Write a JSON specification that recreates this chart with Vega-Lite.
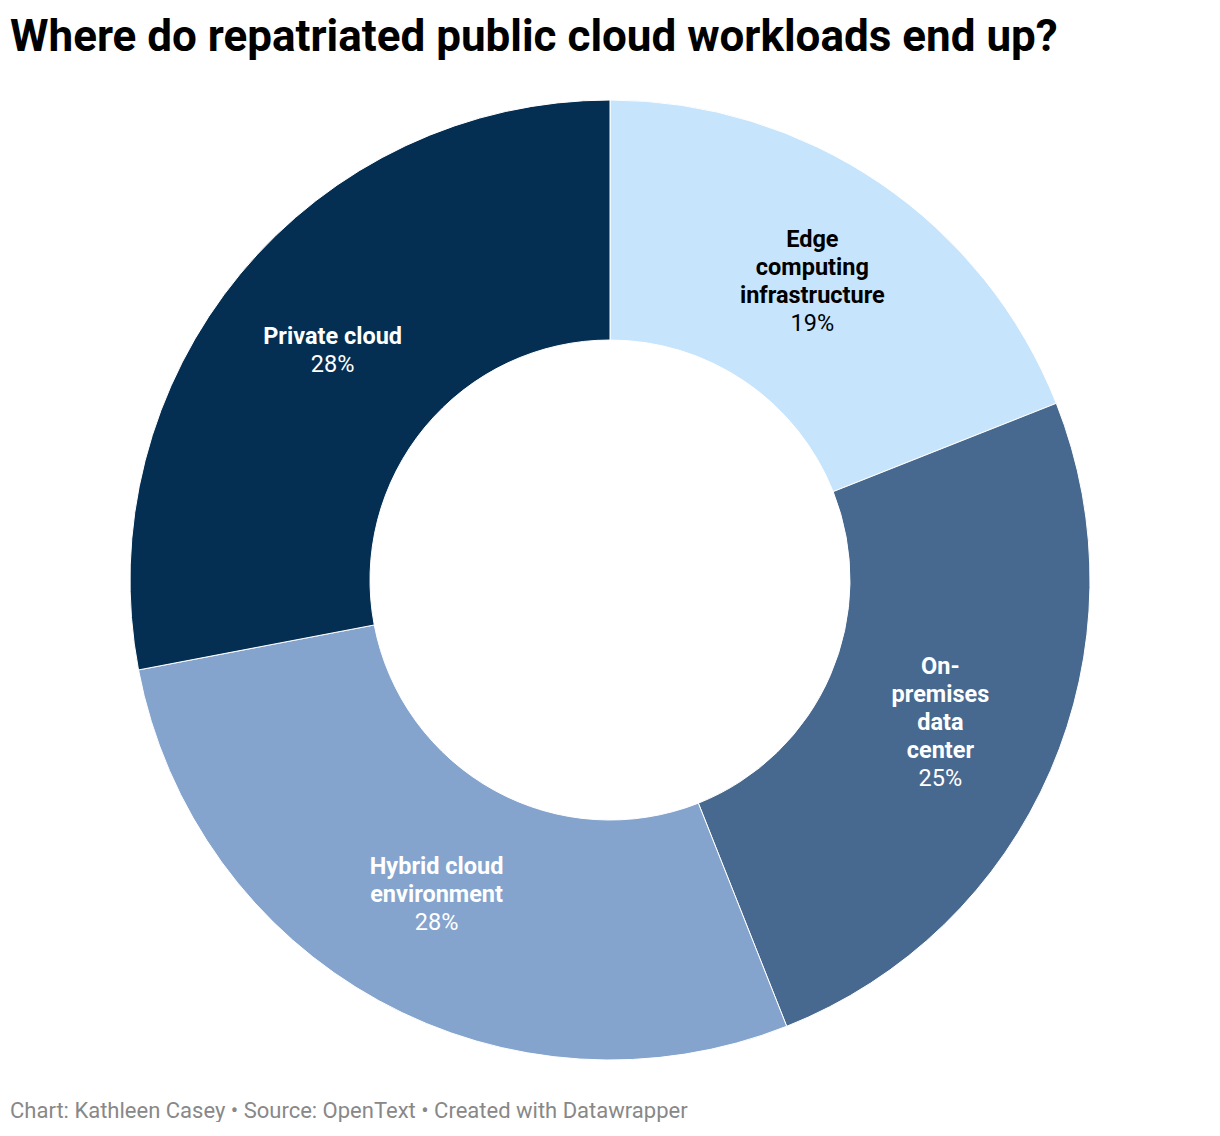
{
  "$schema": "https://vega.github.io/schema/vega-lite/v6.json",
  "padding": {"left": 0, "top": 16, "right": 0, "bottom": 0},
  "background": "#ffffff",
  "config": {"view": {"stroke": null}, "font": "Roboto", "concat": {"spacing": 0}},
  "title": {
    "text": "Where do repatriated public cloud workloads end up?",
    "anchor": "start",
    "dx": 10,
    "font": "Roboto",
    "fontSize": 44,
    "fontWeight": "bold",
    "color": "#000000",
    "offset": 38
  },
  "vconcat": [
    {
      "width": 1220,
      "height": 960,
      "title": {
        "text": "Chart: Kathleen Casey • Source: OpenText • Created with Datawrapper",
        "orient": "bottom",
        "anchor": "start",
        "dx": 10,
        "font": "Roboto",
        "fontSize": 22,
        "fontWeight": "normal",
        "color": "#888888",
        "offset": 39
      },
      "data": {
        "values": [
          {"idx": 1, "category": "Edge computing infrastructure", "value": 19, "name": "Edge\ncomputing\ninfrastructure", "pct": "19%"},
          {"idx": 2, "category": "On-premises data center", "value": 25, "name": "On-\npremises\ndata\ncenter", "pct": "25%"},
          {"idx": 3, "category": "Hybrid cloud environment", "value": 28, "name": "Hybrid cloud\nenvironment", "pct": "28%"},
          {"idx": 4, "category": "Private cloud", "value": 28, "name": "Private cloud", "pct": "28%"}
        ]
      },
      "encoding": {
        "theta": {"field": "value", "type": "quantitative", "stack": true},
        "order": {"field": "idx", "type": "quantitative", "sort": "ascending"},
        "detail": {"field": "category", "type": "nominal"}
      },
      "layer": [
        {
          "mark": {"type": "arc", "outerRadius": 480, "innerRadius": 240, "stroke": "#ffffff", "strokeWidth": 1},
          "encoding": {
            "color": {
              "field": "category",
              "type": "nominal",
              "scale": {
                "domain": ["Edge computing infrastructure", "On-premises data center", "Hybrid cloud environment", "Private cloud"],
                "range": ["#c6e4fb", "#47688f", "#84a4ce", "#042f53"]
              },
              "legend": null
            }
          }
        },
        {
          "mark": {"type": "text", "radius": 360, "lineBreak": "\n", "lineHeight": 28, "fontSize": 23.5, "fontWeight": "bold", "font": "Roboto", "align": "center", "baseline": "middle", "dy": -42, "color": "#000000"},
          "encoding": {"text": {"condition": {"test": "datum.idx === 1", "field": "name"}, "value": ""}}
        },
        {
          "mark": {"type": "text", "radius": 360, "fontSize": 23.5, "fontWeight": "normal", "font": "Roboto", "align": "center", "baseline": "middle", "dy": 42, "color": "#000000"},
          "encoding": {"text": {"condition": {"test": "datum.idx === 1", "field": "pct"}, "value": ""}}
        },
        {
          "mark": {"type": "text", "radius": 360, "lineBreak": "\n", "lineHeight": 28, "fontSize": 23.5, "fontWeight": "bold", "font": "Roboto", "align": "center", "baseline": "middle", "dy": -56, "color": "#ffffff"},
          "encoding": {"text": {"condition": {"test": "datum.idx === 2", "field": "name"}, "value": ""}}
        },
        {
          "mark": {"type": "text", "radius": 360, "fontSize": 23.5, "fontWeight": "normal", "font": "Roboto", "align": "center", "baseline": "middle", "dy": 56, "color": "#ffffff"},
          "encoding": {"text": {"condition": {"test": "datum.idx === 2", "field": "pct"}, "value": ""}}
        },
        {
          "mark": {"type": "text", "radius": 360, "lineBreak": "\n", "lineHeight": 28, "fontSize": 23.5, "fontWeight": "bold", "font": "Roboto", "align": "center", "baseline": "middle", "dy": -28, "color": "#ffffff"},
          "encoding": {"text": {"condition": {"test": "datum.idx === 3", "field": "name"}, "value": ""}}
        },
        {
          "mark": {"type": "text", "radius": 360, "fontSize": 23.5, "fontWeight": "normal", "font": "Roboto", "align": "center", "baseline": "middle", "dy": 28, "color": "#ffffff"},
          "encoding": {"text": {"condition": {"test": "datum.idx === 3", "field": "pct"}, "value": ""}}
        },
        {
          "mark": {"type": "text", "radius": 360, "lineBreak": "\n", "lineHeight": 28, "fontSize": 23.5, "fontWeight": "bold", "font": "Roboto", "align": "center", "baseline": "middle", "dy": -14, "color": "#ffffff"},
          "encoding": {"text": {"condition": {"test": "datum.idx === 4", "field": "name"}, "value": ""}}
        },
        {
          "mark": {"type": "text", "radius": 360, "fontSize": 23.5, "fontWeight": "normal", "font": "Roboto", "align": "center", "baseline": "middle", "dy": 14, "color": "#ffffff"},
          "encoding": {"text": {"condition": {"test": "datum.idx === 4", "field": "pct"}, "value": ""}}
        }
      ]
    }
  ]
}
